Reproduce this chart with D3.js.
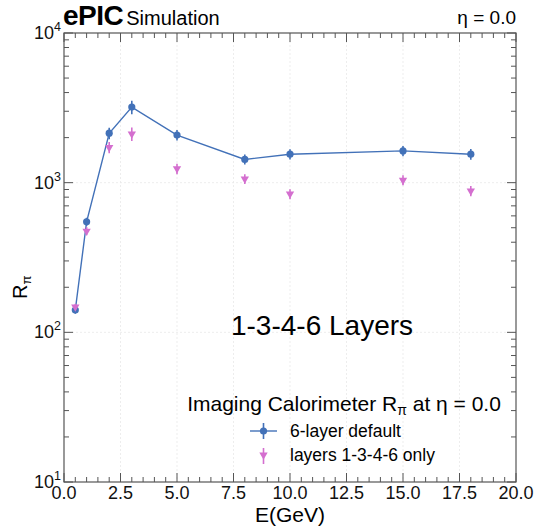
<!DOCTYPE html>
<html>
<head>
<meta charset="utf-8">
<script src="https://cdn.jsdelivr.net/npm/d3@7"></script>
<style>
  body { margin: 0; background: #fff; }
  svg { display: block; font-family: "Liberation Sans", Arial, sans-serif; }
</style>
</head>
<body>
<script>
// beam energies (GeV)
const energies = [0.5, 1, 2, 3, 5, 8, 10, 15, 18];
// pion rejection, default 6-layer config
const rDefault = [141, 548, 2140, 3200, 2080, 1430, 1550, 1630, 1550];
const errDefault = [8, 35, 190, 330, 170, 110, 120, 130, 130];
// pion rejection, layers 1-3-4-6 only
const rReduced = [148, 475, 1720, 2120, 1240, 1060, 840, 1040, 880];
const errReduced = [7, 30, 150, 220, 100, 80, 65, 80, 70];

const xTicks = [0, 2.5, 5, 7.5, 10, 12.5, 15, 17.5, 20];
const yTicks = [10, 100, 1000, 10000];

const W = 536, H = 526;
const m = {left: 64, right: 20, top: 33, bottom: 44};
const blue = "#4271b8", pink = "#d46fcf";

const svg = d3.select("body").append("svg")
    .attr("width", W).attr("height", H);

const x = d3.scaleLinear().domain([0, 20]).range([m.left, W - m.right]);
const y = d3.scaleLog().domain([10, 10000]).range([H - m.bottom, m.top]);

// grid
const grid = svg.append("g")
    .attr("stroke", "#e8e8e8")
    .attr("stroke-dasharray", "2,2")
    .attr("stroke-width", 0.8);
grid.selectAll(".gx")
  .data(xTicks.slice(1, -1))
  .join("line")
    .attr("x1", d => x(d)).attr("x2", d => x(d))
    .attr("y1", m.top).attr("y2", H - m.bottom);
grid.selectAll(".gy")
  .data(yTicks.slice(1, -1))
  .join("line")
    .attr("y1", d => y(d)).attr("y2", d => y(d))
    .attr("x1", m.left).attr("x2", W - m.right);

// ticks (inward, all four sides)
const minorX = d3.range(0, 20.01, 0.5).filter(v => Math.abs(v / 2.5 - Math.round(v / 2.5)) > 1e-6);
const minorY = [];
[10, 100, 1000].forEach(d => { for (let k = 2; k <= 9; k++) minorY.push(d * k); });

const ticks = svg.append("g").attr("stroke", "#555").attr("stroke-width", 1);
function tickX(vals, len) {
  vals.forEach(v => {
    ticks.append("line").attr("x1", x(v)).attr("x2", x(v))
      .attr("y1", H - m.bottom).attr("y2", H - m.bottom - len);
    ticks.append("line").attr("x1", x(v)).attr("x2", x(v))
      .attr("y1", m.top).attr("y2", m.top + len);
  });
}
function tickY(vals, len) {
  vals.forEach(v => {
    ticks.append("line").attr("y1", y(v)).attr("y2", y(v))
      .attr("x1", m.left).attr("x2", m.left + len);
    ticks.append("line").attr("y1", y(v)).attr("y2", y(v))
      .attr("x1", W - m.right).attr("x2", W - m.right - len);
  });
}
tickX(xTicks, 9); tickX(minorX, 5);
tickY(yTicks, 9); tickY(minorY, 5);

svg.append("rect")
    .attr("x", m.left).attr("y", m.top)
    .attr("width", W - m.left - m.right).attr("height", H - m.top - m.bottom)
    .attr("fill", "none").attr("stroke", "#555").attr("stroke-width", 1.2);

// tick labels
svg.append("g").attr("font-size", 18).attr("text-anchor", "middle").attr("fill", "#111")
  .selectAll("text")
  .data(xTicks)
  .join("text")
    .attr("x", d => x(d)).attr("y", H - m.bottom + 17)
    .text(d => d.toFixed(1));

const yl = svg.append("g").attr("fill", "#111");
yTicks.forEach(d => {
  const t = yl.append("text").attr("x", m.left - 3).attr("y", y(d) + 6)
      .attr("text-anchor", "end").attr("font-size", 18);
  t.append("tspan").text("10");
  t.append("tspan").attr("dy", -8).attr("font-size", 12.5).text(Math.round(Math.log10(d)));
});

// axis titles
svg.append("text")
    .attr("x", x(10)).attr("y", H - 4)
    .attr("text-anchor", "middle").attr("font-size", 21)
    .text("E(GeV)");
const ylab = svg.append("text")
    .attr("transform", `translate(27,${y(200)}) rotate(-90)`)
    .attr("text-anchor", "middle").attr("font-size", 20);
ylab.append("tspan").text("R");
ylab.append("tspan").attr("dy", 4).attr("font-size", 13).text("π");

// header
const hdr = svg.append("text").attr("x", 63).attr("y", 25);
hdr.append("tspan").attr("font-size", 28).attr("font-weight", "bold").attr("letter-spacing", -0.5).text("ePIC");
hdr.append("tspan").attr("font-size", 20).attr("dx", 3).text("Simulation");
svg.append("text")
    .attr("x", W - m.right).attr("y", 24)
    .attr("text-anchor", "end").attr("font-size", 19)
    .text("η = 0.0");

// series
const rows = (vals, errs) => energies.map((e, i) => ({e, v: vals[i], err: errs[i]}));
const dA = rows(rDefault, errDefault);
const dB = rows(rReduced, errReduced);

svg.append("path")
    .datum(dA)
    .attr("fill", "none").attr("stroke", blue).attr("stroke-width", 1.4)
    .attr("d", d3.line().x(d => x(d.e)).y(d => y(d.v)));

function errBars(data, color) {
  svg.append("g").attr("stroke", color).attr("stroke-width", 1.6)
    .selectAll("line")
    .data(data)
    .join("line")
      .attr("x1", d => x(d.e)).attr("x2", d => x(d.e))
      .attr("y1", d => y(d.v - d.err)).attr("y2", d => y(d.v + d.err));
}
errBars(dA, blue);
errBars(dB, pink);

svg.append("g").attr("fill", blue)
  .selectAll("circle")
  .data(dA)
  .join("circle")
    .attr("cx", d => x(d.e)).attr("cy", d => y(d.v)).attr("r", 3.6);

const tri = d3.symbol().type(d3.symbolTriangle).size(30);
svg.append("g").attr("fill", pink)
  .selectAll("path")
  .data(dB)
  .join("path")
    .attr("d", tri)
    .attr("transform", d => `translate(${x(d.e)},${y(d.v)}) rotate(180)`);

// annotation
svg.append("text")
    .attr("x", 322).attr("y", 335)
    .attr("text-anchor", "middle").attr("font-size", 28)
    .text("1-3-4-6 Layers");

// legend
const lt = svg.append("text").attr("x", 344).attr("y", 411)
    .attr("text-anchor", "middle").attr("font-size", 21);
lt.append("tspan").text("Imaging Calorimeter R");
lt.append("tspan").attr("dy", 4).attr("font-size", 14).text("π");
lt.append("tspan").attr("dy", -4).text(" at η = 0.0");

const lg = svg.append("g");
lg.append("line").attr("x1", 250).attr("x2", 277).attr("y1", 431).attr("y2", 431)
    .attr("stroke", blue).attr("stroke-width", 1.4);
lg.append("line").attr("x1", 263.5).attr("x2", 263.5).attr("y1", 423).attr("y2", 439)
    .attr("stroke", blue).attr("stroke-width", 1.6);
lg.append("circle").attr("cx", 263.5).attr("cy", 431).attr("r", 3.6).attr("fill", blue);
lg.append("text").attr("x", 290).attr("y", 437).attr("font-size", 17.5).text("6-layer default");

lg.append("line").attr("x1", 263.5).attr("x2", 263.5).attr("y1", 448).attr("y2", 464)
    .attr("stroke", pink).attr("stroke-width", 1.6);
lg.append("path").attr("d", tri).attr("fill", pink)
    .attr("transform", "translate(263.5,455) rotate(180)");
lg.append("text").attr("x", 290).attr("y", 461).attr("font-size", 17.5).text("layers 1-3-4-6 only");
</script>
</body>
</html>
